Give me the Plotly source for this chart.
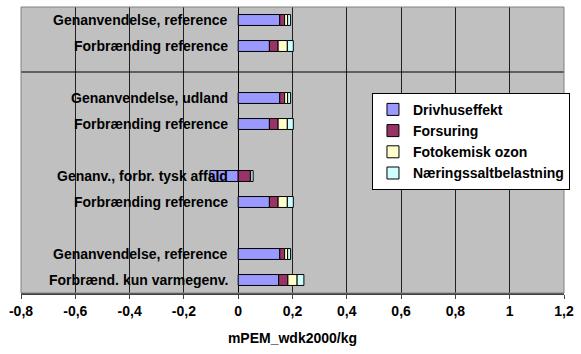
import plotly.graph_objects as go

# Category labels, top to bottom, and their row slots (gaps between scenario groups)
labels = [
    "Genanvendelse, reference",
    "Forbrænding reference",
    "Genanvendelse, udland",
    "Forbrænding reference",
    "Genanv., forbr. tysk affald",
    "Forbrænding reference",
    "Genanvendelse, reference",
    "Forbrænd. kun varmegenv.",
]
slots = [0, 1, 3, 4, 6, 7, 9, 10]
separator_slot = 2

# Impact categories (mPEM_wdk2000/kg)
drivhuseffekt = [0.153, 0.115, 0.153, 0.115, -0.104, 0.115, 0.153, 0.149]
forsuring = [0.018, 0.032, 0.018, 0.032, 0.045, 0.032, 0.018, 0.034]
fotokemisk_ozon = [0.011, 0.034, 0.011, 0.034, 0.001, 0.034, 0.011, 0.034]
naeringssalt = [0.011, 0.022, 0.011, 0.022, 0.009, 0.022, 0.011, 0.025]

series = [
    ("Drivhuseffekt", drivhuseffekt, "#9999FF"),
    ("Forsuring", forsuring, "#993366"),
    ("Fotokemisk ozon", fotokemisk_ozon, "#FFFFCC"),
    ("Næringssaltbelastning", naeringssalt, "#CCFFFF"),
]

tick_vals = [-0.8, -0.6, -0.4, -0.2, 0, 0.2, 0.4, 0.6, 0.8, 1.0, 1.2]
tick_text = ["-0,8", "-0,6", "-0,4", "-0,2", "0", "0,2", "0,4", "0,6", "0,8", "1", "1,2"]

FONT = "Liberation Sans"
SIZE = 14


def bold(s):
    return "<b>" + s + "</b>"


fig = go.Figure()
for i, (name, vals, color) in enumerate(series):
    fig.add_trace(go.Bar(
        name=bold(name), x=vals, y=slots, orientation="h",
        marker=dict(color=color, line=dict(color="black", width=1)),
        width=0.42, legendgroup=f"g{i}",
    ))

# Category labels sit next to the value axis at x = 0
for lab, s in zip(labels, slots):
    fig.add_annotation(
        x=0, y=s, xref="x", yref="y", text=bold(lab), showarrow=False,
        xanchor="right", yanchor="middle", xshift=-8,
        font=dict(family=FONT, size=SIZE, color="black"),
    )

# Horizontal divider between the first group and the rest
fig.add_shape(type="line", xref="paper", yref="y", x0=0, x1=1,
              y0=separator_slot, y1=separator_slot,
              line=dict(color="black", width=1))

fig.update_layout(
    width=581, height=354,
    margin=dict(l=21, r=14, t=7, b=61),
    paper_bgcolor="white",
    plot_bgcolor="#C0C0C0",
    barmode="relative",
    showlegend=True,
    legend=dict(
        x=1.011, y=0.70, xanchor="right", yanchor="top",
        bgcolor="white", bordercolor="black", borderwidth=1,
        font=dict(family=FONT, size=SIZE, color="black"),
        traceorder="normal", itemwidth=30, tracegroupgap=3,
    ),
    xaxis=dict(
        range=[-0.8, 1.2], tickvals=tick_vals, ticktext=[bold(t) for t in tick_text],
        showgrid=True, gridcolor="#202020", gridwidth=1,
        zeroline=True, zerolinecolor="black", zerolinewidth=1,
        ticks="outside", ticklen=4, tickcolor="#404040",
        showline=True, linecolor="#404040", linewidth=2, mirror=False,
        tickfont=dict(family=FONT, size=SIZE, color="black"),
        title=dict(text=bold("mPEM_wdk2000/kg"), standoff=15,
                   font=dict(family=FONT, size=SIZE, color="black")),
    ),
    yaxis=dict(
        range=[10.5, -0.5], showticklabels=False, showgrid=False,
        zeroline=False, showline=False, ticks="",
    ),
)

# Plot-area frame
fig.add_shape(type="rect", xref="paper", yref="paper", x0=0, x1=1, y0=0, y1=1,
              line=dict(color="#808080", width=1), layer="above")

fig.write_html("out.html")
